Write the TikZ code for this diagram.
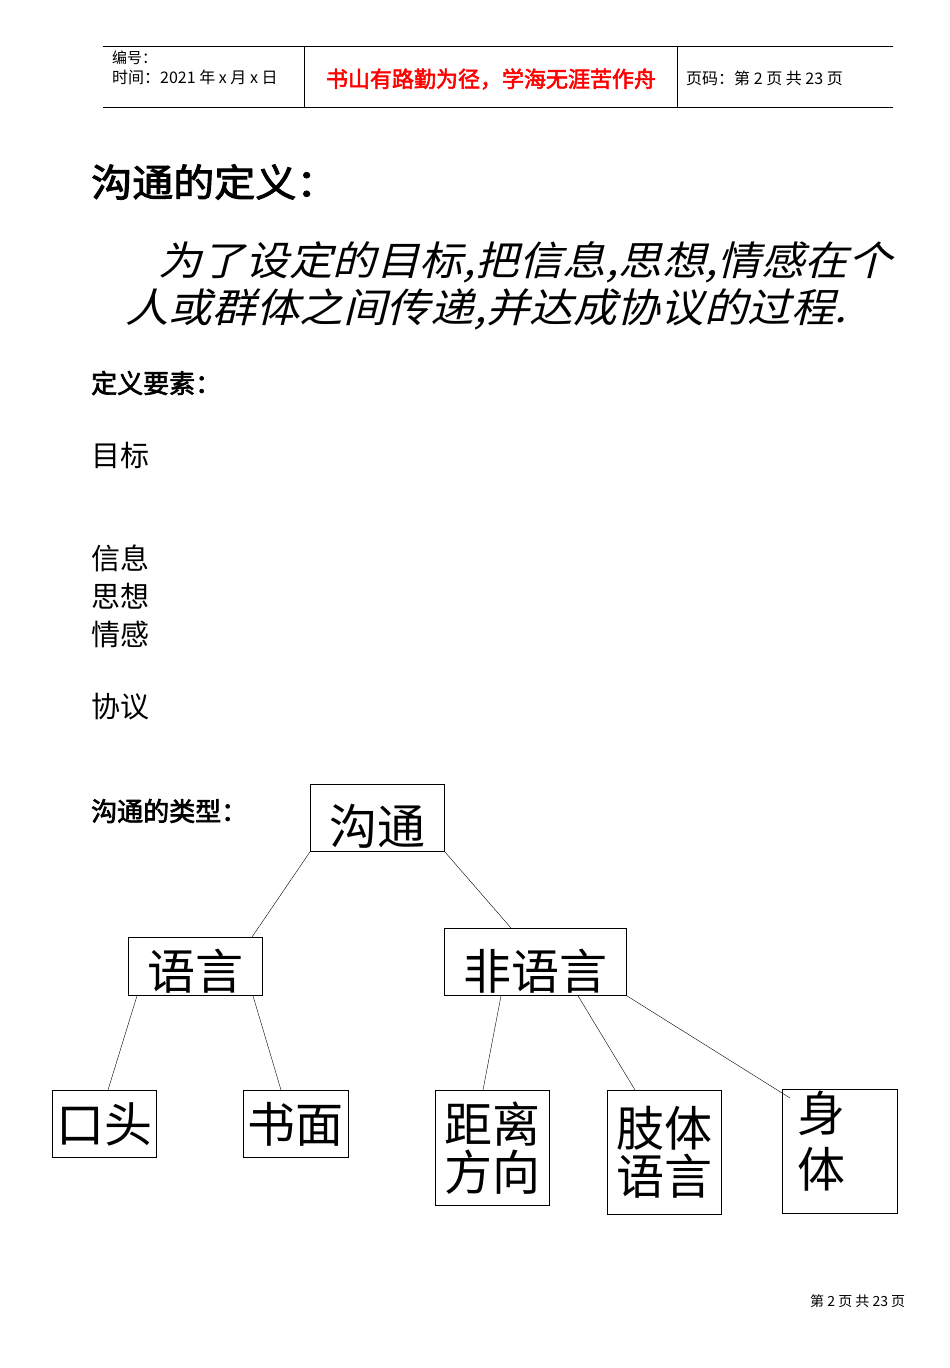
\documentclass[tikz,border=0pt]{standalone}
\usepackage{fontspec}
\usetikzlibrary{calc}
\setmainfont{Liberation Serif}
\newfontfamily\cjk{Noto Sans CJK SC}
\newfontfamily\cjkit[FakeSlant=0.25,FakeStretch=1.09]{Noto Sans CJK SC}
\newfontfamily\cjkb[FakeBold=2.5]{Noto Sans CJK SC}
\newfontfamily\cjkbw[FakeBold=2.5,FakeStretch=1.08]{Noto Sans CJK SC}
\begin{document}
\begin{tikzpicture}[x=1pt,y=-1pt,
  bx/.style={draw,line width=0.8pt,inner sep=0pt,anchor=north west},
  lab/.style={anchor=west,inner sep=0pt},
  tl/.style={font=\cjk\fontsize{48}{54}\selectfont}]
\useasboundingbox (0,0) rectangle (950,1368);
% header
\draw[line width=0.8pt] (103,46) -- (893,46) (103,107) -- (893,107) (304,46) -- (304,107) (677,46) -- (677,107);
\node[lab] (h1) at (112,58) {\cjk\fontsize{15}{16}\selectfont 编号：};
\node[lab] (h2) at (112,77) {\cjk\fontsize{16}{16}\selectfont 时间：2021 年 x 月 x 日};
\node (h3) at (491,79) {\cjkb\fontsize{22}{24}\selectfont\color{red}书山有路勤为径，学海无涯苦作舟};
\node[lab] (h4) at (686,78) {\cjk\fontsize{16}{16}\selectfont 页码：第 2 页 共 23 页};
% text
\node[lab] (t1) at (91,182) {\cjkbw\fontsize{38}{40}\selectfont 沟通的定义：};
\node[lab] (t2) at (158,262) {\cjkit\fontsize{40}{44}\selectfont 为了设定的目标,把信息,思想,情感在个};
\node[lab] (t3) at (125,309) {\cjkit\fontsize{40}{44}\selectfont 人或群体之间传递,并达成协议的过程.};
\node[lab] (t4) at (91,383) {\cjkb\fontsize{26}{28}\selectfont 定义要素：};
\node[lab] (e1) at (91,455) {\cjk\fontsize{29}{30}\selectfont 目标};
\node[lab] (e2) at (91,558) {\cjk\fontsize{29}{30}\selectfont 信息};
\node[lab] (e3) at (91,596) {\cjk\fontsize{29}{30}\selectfont 思想};
\node[lab] (e4) at (91,634) {\cjk\fontsize{29}{30}\selectfont 情感};
\node[lab] (e5) at (91,707) {\cjk\fontsize{29}{30}\selectfont 协议};
\node[lab] (t5) at (91,811) {\cjkb\fontsize{26}{28}\selectfont 沟通的类型：};
% boxes
\node[bx,minimum width=134pt,minimum height=67pt] (g) at (310,784) {};
\node[tl] at ($(g.center)+(0,8)$) {沟通};
\node[bx,minimum width=134pt,minimum height=58pt] (y) at (128,937) {};
\node[tl] at ($(y.center)+(0,5)$) {语言};
\node[bx,minimum width=182pt,minimum height=67pt] (f) at (444,928) {};
\node[tl] at ($(f.center)+(0,9)$) {非语言};
\node[bx,minimum width=104pt,minimum height=67pt] (k) at (52,1090) {};
\node[tl] at (k.center) {口头};
\node[bx,minimum width=105pt,minimum height=67pt] (s) at (243,1090) {};
\node[tl] at (s.center) {书面};
\node[bx,minimum width=114pt,minimum height=115pt] (j) at (435,1090) {};
\node[tl,align=center] at (j.center) {距离\\[-6pt]方向};
\node[bx,minimum width=114pt,minimum height=124pt] (z) at (607,1090) {};
\node[tl,align=center] at (z.center) {肢体\\[-6pt]语言};
\node[bx,minimum width=115pt,minimum height=124pt] (sh) at (782,1089) {};
\node[tl,align=left,anchor=north west] at ($(sh.north west)+(12,-2)$) {身\\[2pt]体};
% connectors
\draw (g.south west) -- ($(y.north west)+(124,0)$);
\draw (g.south east) -- ($(f.north west)+(67,0)$);
\draw ($(y.south west)+(9,0)$) -- ($(k.north west)+(56,0)$);
\draw ($(y.south west)+(125,0)$) -- ($(s.north west)+(38,0)$);
\draw ($(f.south west)+(57,0)$) -- ($(j.north west)+(48,0)$);
\draw ($(f.south west)+(134,0)$) -- ($(z.north west)+(28,0)$);
\draw (f.south east) -- ($(sh.north west)+(8,9)$);
% footer
\node[lab] (ft) at (810,1301) {\cjk\fontsize{14}{14}\selectfont 第 2 页 共 23 页};
\end{tikzpicture}
\end{document}
